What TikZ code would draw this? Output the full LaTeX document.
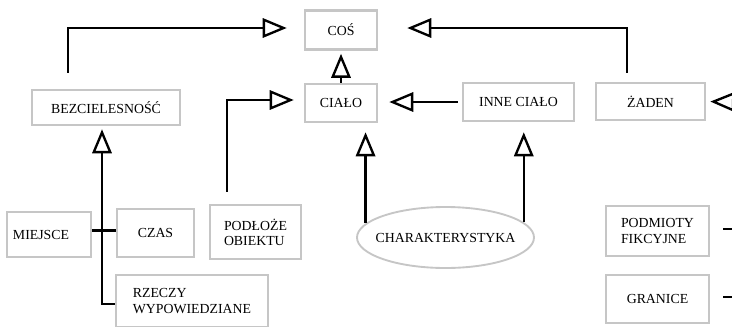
\documentclass[tikz,border=0pt]{standalone}
\usepackage{fontspec}
\setmainfont{Liberation Serif}
\usetikzlibrary{arrows.meta,shapes.geometric}
\tikzset{
  box/.style={draw=gray!45, line width=2.2pt, rectangle, align=center, font=\fontsize{11.8}{13}\selectfont},
  oval/.style={draw=gray!45, line width=1.6pt, ellipse, inner sep=0pt, font=\fontsize{11.8}{13}\selectfont},
  link/.style={black, line width=2pt},
  isa/.style={link, -{Triangle[open, length=0.72cm, width=0.58cm]}}
}
\begin{document}
\begin{tikzpicture}[x=0.03cm, y=-0.03cm]
      \clip (0,0) rectangle (732,326);

      % Top level
      \node (COS) [box, minimum width=2.16cm, minimum height=1.17cm] at (341,30) {COŚ};
      \node (CIALO) [box, minimum width=2.16cm, minimum height=1.14cm] at (341,103) {CIAŁO};
      \node (BEZ) [box, minimum width=4.44cm, minimum height=1.05cm] at (106,107.5) {BEZCIELESNOŚĆ};
      \node (INNE) [box, minimum width=3.33cm, minimum height=1.14cm] at (518.5,102) {INNE CIAŁO};
      \node (ZADEN) [box, minimum width=3.27cm, minimum height=1.11cm] at (650.5,101.5) {ŻADEN};

      % Lower level
      \node (MIEJSCE) [box, minimum width=2.52cm, minimum height=1.35cm, text width=2.16cm, inner xsep=0.18cm, align=left] at (49,234.5) {MIEJSCE};
      \node (CZAS) [box, minimum width=2.31cm, minimum height=1.44cm] at (155.5,233) {CZAS};
      \node (PODLOZE) [box, minimum width=2.73cm, minimum height=1.62cm, align=left] at (255.5,232) {PODŁOŻE\\OBIEKTU};
      \node (RZECZY) [box, minimum width=4.56cm, minimum height=1.56cm, align=left] at (192,301) {RZECZY\\WYPOWIEDZIANE};
      \node (CHAR) [oval, minimum width=5.31cm, minimum height=1.83cm] at (445.5,237.5) {\makebox[0pt]{CHARAKTERYSTYKA}};
      \node (PODMIOTY) [box, minimum width=3.09cm, minimum height=1.5cm, align=left] at (657.5,231) {PODMIOTY\\FIKCYJNE};
      \node (GRANICE) [box, minimum width=3.09cm, minimum height=1.44cm] at (657.5,299) {GRANICE};

      % Edge of the page
      \coordinate (EDGE) at (738,102);

      % Connections to COS
      \draw[isa] ([xshift=-1.14cm, yshift=0.48cm]BEZ.north) |- ([xshift=-0.51cm, yshift=0.06cm]COS.west);
      \draw[isa, shorten >=0.09cm] (CIALO) -- (COS);
      \draw[isa] ([xshift=-0.71cm, yshift=0.27cm]ZADEN.north) |- ([xshift=0.87cm, yshift=0.06cm]COS.east);

      % Connections to CIALO
      \draw[isa] ([xshift=-0.86cm, yshift=0.36cm]PODLOZE.north) |- ([xshift=-0.3cm, yshift=0.09cm]CIALO.west);
      \draw[isa, shorten <=0.12cm, shorten >=0.33cm] (INNE.west) -- (CIALO.east |- INNE.west);
      \draw[isa, shorten >=0.27cm] (CHAR.170) -- (CHAR.170 |- CIALO.south);
      \draw[isa, shorten >=0.3cm] (CHAR.11) -- (CHAR.11 |- INNE.south);

      % Connections to BEZ
      \draw[isa, shorten >=0.09cm] ([yshift=-0.09cm]RZECZY.west) -| ([xshift=-0.12cm]BEZ.south);
      \draw[link] ([yshift=0.12cm]MIEJSCE.east) -- ([yshift=0.12cm]MIEJSCE.east -| CZAS.west);

      % Right side
      \draw[isa, shorten >=0.12cm] (EDGE) -- (ZADEN.east);
      \draw[link, shorten <=0.39cm] ([yshift=0.06cm]PODMIOTY.east) -- ([yshift=0.06cm]PODMIOTY.east -| EDGE);
      \draw[link, shorten <=0.39cm] ([yshift=0.06cm]GRANICE.east) -- ([yshift=0.06cm]GRANICE.east -| EDGE);
\end{tikzpicture}
\end{document}
